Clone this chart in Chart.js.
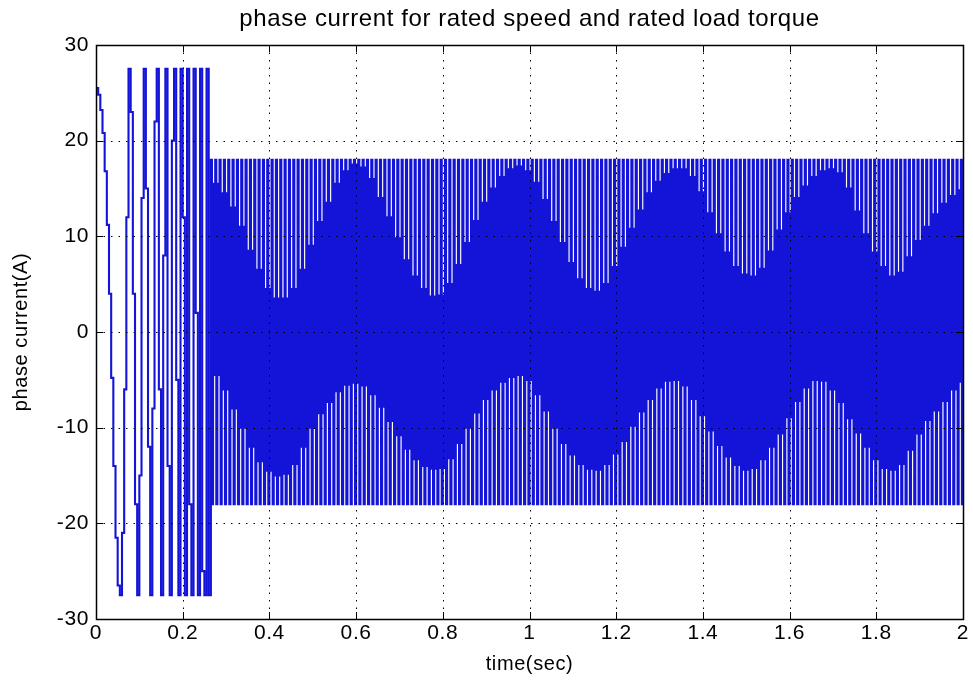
<!DOCTYPE html>
<html>
<head>
<meta charset="utf-8">
<script src="https://cdn.jsdelivr.net/npm/chart.js@4"></script>
<style>
  html, body { margin: 0; padding: 0; background: #fff; }
  #wrap { width: 973px; height: 681px; position: relative; }
</style>
</head>
<body>
<div id="wrap"><canvas id="myChart"></canvas></div>
<script>
const chartTitle = 'phase current for rated speed and rated load torque';

// axis ticks
const timeTicks = [0, 0.2, 0.4, 0.6, 0.8, 1, 1.2, 1.4, 1.6, 1.8, 2];
const currentTicks = [-30, -20, -10, 0, 10, 20, 30];

// start-up part: one held sample every 5 ms
const sampleStep = 0.005;
const startupCurrent = [
  25.5, 24.8, 23.2, 20.8, 16.8, 11.2, 4.0, -4.8, -14.0, -21.5, -26.5, -27.5,
  -21.0, -6.0, 12.0, 27.5, 23.0, 4.0,
  -18.0, -27.5, -15.0, 14.0, 27.5, 15.0,
  -12.0, -27.5, -8.0, 22.0, 27.5, -6.0,
  -27.5, 8.0, 27.5, -14.0, -27.5, 20.0,
  27.5, -5.0, -27.5, 27.5, 12.0, -27.5,
  27.5, -18.0, -27.5, 27.5, 2.0, -27.5,
  27.5, -25.0, -27.5, 27.5, -27.5
];

// steady part: every switching cycle goes 18 -> -18 -> upper level -> lower level
const steadyStart = 0.265;
const cycleLength = 0.01;
const peakHigh = 18;
const peakLow = -18;
// where the white gaps end, read every 20 ms (upper = gaps from the top, lower = gaps from the bottom)
const upperLevel = [
  15.5, 14.5, 13, 11, 8.5, 6.5, 4.5, 3.5, 3.5, 4.5, 6.5, 9, 11.5, 13.5, 15.5, 16.8, 17.5,
  17.2, 16, 14, 12, 9.8, 7.5, 5.8, 4.5, 3.7, 3.8, 5, 7, 9.3, 11.6, 13.5, 15, 16.2, 17,
  17.3, 16.8, 15.6, 13.8, 11.5, 9.3, 7.2, 5.5, 4.5, 4.2, 5, 6.8, 8.8, 10.8, 12.7, 14.5,
  15.7, 16.5, 17, 17, 16.2, 14.6, 12.4, 10.2, 8.3, 6.8, 6, 5.8, 6.6, 8.4, 10.6, 12.4,
  14, 15.2, 16.2, 16.8, 17, 16.6, 15, 12.6, 10.2, 8.3, 6.8, 5.8, 6.2, 7.8, 9.5, 11,
  12.3, 13.4, 14.2, 14.8
];
const lowerLevel = [
  -4.5, -6, -8, -10, -12, -13.5, -14.5, -15, -14.8, -13.8, -12, -10, -8.5, -7.3, -6.2, -5.5, -5.3,
  -5.6, -6.5, -7.8, -9.3, -10.8, -12.2, -13.3, -14, -14.3, -14.2, -13.2, -11.6, -10, -8.4, -7, -6, -5.2, -4.7,
  -4.5, -5, -6.5, -8.2, -10, -11.6, -12.8, -13.8, -14.3, -14.4, -13.8, -12.7, -11.4, -9.8, -8.3, -7,
  -5.8, -5.1, -5, -5.6, -7, -8.7, -10.3, -11.8, -13, -13.9, -14.4, -14.2, -13.3, -12, -10.6, -8.9,
  -7.2, -5.8, -5, -5.1, -6, -7.3, -9, -10.5, -12, -13.3, -14.2, -14.4, -13.8, -12.3, -10.6, -9.2,
  -8.2, -7.2, -6, -5.2
];

// build the held samples
const points = startupCurrent.map((v, i) => ({ x: i * sampleStep, y: v }));
const quarter = cycleLength / 4;
for (let k = 0; k < upperLevel.length * 2; k++) {
  const t0 = steadyStart + k * cycleLength;
  const e = Math.floor(k / 2);
  points.push({ x: t0, y: peakHigh });
  points.push({ x: t0 + quarter, y: peakLow });
  points.push({ x: t0 + 2 * quarter, y: upperLevel[e] });
  points.push({ x: t0 + 3 * quarter, y: lowerLevel[e] });
}

const fontFamily = "'Liberation Sans', Arial, Helvetica, sans-serif";

// a little letter spacing, like the old matlab screen font
const spacedText = {
  id: 'spacedText',
  beforeDraw(chart) { chart.ctx.letterSpacing = '0.6px'; },
  afterDraw(chart) { chart.ctx.letterSpacing = '0px'; }
};

// title centred over the axes box, as matlab does
const axesTitle = {
  id: 'axesTitle',
  afterDraw(chart) {
    const { ctx, chartArea: a } = chart;
    ctx.save();
    ctx.letterSpacing = '0.6px';
    ctx.font = `24px ${fontFamily}`;
    ctx.fillStyle = '#000';
    ctx.textAlign = 'center';
    ctx.textBaseline = 'middle';
    ctx.fillText(chartTitle, (a.left + a.right) / 2, 19);
    ctx.restore();
  }
};

// matlab style box, inner ticks and dotted grid drawn over the trace
const matlabAxes = {
  id: 'matlabAxes',
  afterDatasetsDraw(chart) {
    const { ctx, chartArea: a, scales } = chart;
    const xs = scales.x, ys = scales.y;
    ctx.save();
    ctx.strokeStyle = '#000';
    ctx.lineWidth = 1;
    ctx.setLineDash([1.5, 6]);
    timeTicks.forEach(v => {
      const px = Math.round(xs.getPixelForValue(v)) + 0.5;
      if (px < a.left + 2 || px > a.right - 2) return;
      ctx.beginPath(); ctx.moveTo(px, a.top); ctx.lineTo(px, a.bottom); ctx.stroke();
    });
    currentTicks.forEach(v => {
      const py = Math.round(ys.getPixelForValue(v)) + 0.5;
      if (py < a.top + 2 || py > a.bottom - 2) return;
      ctx.beginPath(); ctx.moveTo(a.left, py); ctx.lineTo(a.right, py); ctx.stroke();
    });
    ctx.setLineDash([]);
    const tl = 7;
    timeTicks.forEach(v => {
      const px = Math.round(xs.getPixelForValue(v)) + 0.5;
      ctx.beginPath();
      ctx.moveTo(px, a.bottom); ctx.lineTo(px, a.bottom - tl);
      ctx.moveTo(px, a.top); ctx.lineTo(px, a.top + tl);
      ctx.stroke();
    });
    currentTicks.forEach(v => {
      const py = Math.round(ys.getPixelForValue(v)) + 0.5;
      ctx.beginPath();
      ctx.moveTo(a.left, py); ctx.lineTo(a.left + tl, py);
      ctx.moveTo(a.right, py); ctx.lineTo(a.right - tl, py);
      ctx.stroke();
    });
    ctx.lineWidth = 1.5;
    ctx.strokeRect(Math.round(a.left) + 0.5, Math.round(a.top) + 0.5,
      Math.round(a.right - a.left), Math.round(a.bottom - a.top));
    ctx.restore();
  }
};

const ctx = document.getElementById('myChart');

new Chart(ctx, {
  type: 'line',
  data: {
    datasets: [{
      data: points,
      stepped: true,
      borderColor: '#1414d8',
      borderWidth: 2.1,
      pointRadius: 0,
      fill: false,
      tension: 0
    }]
  },
  options: {
    responsive: true,
    maintainAspectRatio: false,
    animation: false,
    parsing: false,
    layout: { padding: { left: 0, right: 10, top: 45, bottom: 0 } },
    plugins: {
      legend: { display: false },
      tooltip: { enabled: false },
      title: { display: false }
    },
    scales: {
      x: {
        type: 'linear',
        min: 0,
        max: 2,
        afterBuildTicks: s => { s.ticks = timeTicks.map(v => ({ value: v })); },
        afterFit: s => { s.height = 62; },
        ticks: {
          color: '#000',
          font: { family: fontFamily, size: 21 },
          padding: 2,
          maxRotation: 0,
          autoSkip: false,
          callback: v => String(v)
        },
        grid: { display: false, drawTicks: false },
        border: { display: false },
        title: {
          display: true,
          text: 'time(sec)',
          color: '#000',
          font: { family: fontFamily, size: 20 },
          padding: { top: 0, bottom: 5 }
        }
      },
      y: {
        type: 'linear',
        min: -30,
        max: 30,
        afterBuildTicks: s => { s.ticks = currentTicks.map(v => ({ value: v })); },
        afterFit: s => { s.width = 96; },
        ticks: {
          color: '#000',
          font: { family: fontFamily, size: 21 },
          padding: 7,
          autoSkip: false,
          callback: v => String(v)
        },
        grid: { display: false, drawTicks: false },
        border: { display: false },
        title: {
          display: true,
          text: 'phase current(A)',
          color: '#000',
          font: { family: fontFamily, size: 20 },
          padding: { top: 9, bottom: 0 }
        }
      }
    }
  },
  plugins: [spacedText, matlabAxes, axesTitle]
});
</script>
</body>
</html>
